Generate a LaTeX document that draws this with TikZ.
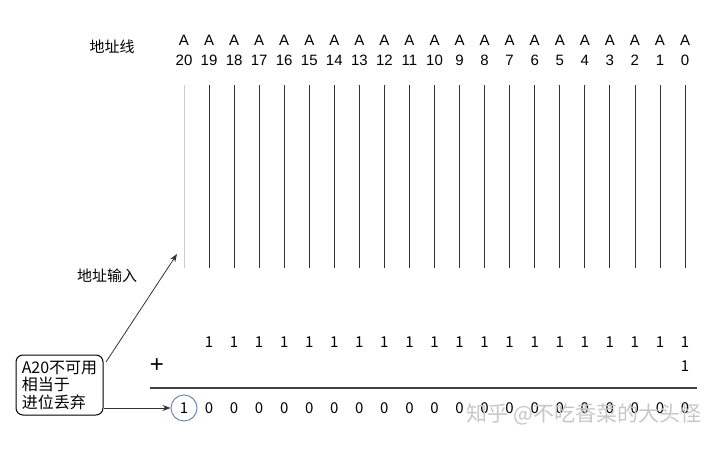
\documentclass[tikz,border=0pt]{standalone}
\usepackage{fontspec}
\setmainfont{Liberation Sans}
\newfontfamily\cjk{Noto Sans CJK SC}
\usetikzlibrary{positioning,arrows.meta}

\definecolor{ringblue}{RGB}{112,136,180}

\begin{document}
\begin{tikzpicture}[x=1pt, y=-1pt, >={Stealth[length=8pt,width=6pt]},
	addrtext/.style={font=\fontsize{15}{15}\selectfont, inner sep=0pt},
	bitnode/.style={font=\fontsize{15}{15}\selectfont\cjk, inner sep=0pt},
	cntext/.style={font=\fontsize{15}{15}\selectfont\cjk, inner sep=0pt},
	notebox/.style={rectangle, rounded corners=7pt, draw=black, line width=1pt,
		align=left, font=\fontsize{16}{17.5}\selectfont\cjk,
		minimum width=87pt, minimum height=60pt, inner sep=0pt},
	wire/.style={draw=black!80, line width=0.8pt}]
	\useasboundingbox (0,0) rectangle (720,450);
	% address lines A20 .. A0
	\foreach \i in {0,...,20} {
		\pgfmathsetmacro\xx{685-25.05*\i}
		\node[addrtext] (A\i) at (\xx,40) {A};
		\node[addrtext] (N\i) at (\xx,60) {\i};
		\coordinate (top\i) at (\xx,85);
		\coordinate (bot\i) at (\xx,268);
	}
	\foreach \i in {0,...,19} {
		\draw[wire] (top\i) -- (bot\i);
	}
	\draw[draw=black!20, line width=1pt] (top20) -- (bot20);
	\node[cntext] (lines) at (112,47) {地址线};
	\node[cntext] (input) at (107,276) {地址输入};
	% the addition
	\foreach \i in {0,...,19} {
		\pgfmathsetmacro\xx{685-25.05*\i}
		\node[bitnode] (P\i) at (\xx,342) {1};
		\node[bitnode] (R\i) at (\xx,408) {0};
	}
	\node[bitnode] (Q0) at (685,366) {1};
	\node[font=\fontsize{24}{24}\selectfont, inner sep=0pt] (plus) at (157,366) {+};
	\coordinate (sumL) at (150,388);
	\coordinate (sumR) at (697,388);
	\draw[draw=black!75, line width=1.2pt] (sumL) -- (sumR);
	\node[bitnode, circle, draw=ringblue, line width=1pt, minimum size=26pt] (R20) at (184,408) {1};
	% note
	\node[notebox] (note) at (59.5,385) {A20不可用\\相当于\\进位丢弃};
	\coordinate (addrin) at (177,254);
	\coordinate (noteout) at (106,362);
	\draw[->, wire] (noteout) -- (addrin);
	\draw[->, wire] (note.east |- R20.west) -- (R20.west);
	% watermark
	\node[font=\fontsize{21}{21}\selectfont\cjk, text=black!22] (mark) at (584,414) {知乎 @不吃香菜的大头怪};
\end{tikzpicture}
\end{document}
